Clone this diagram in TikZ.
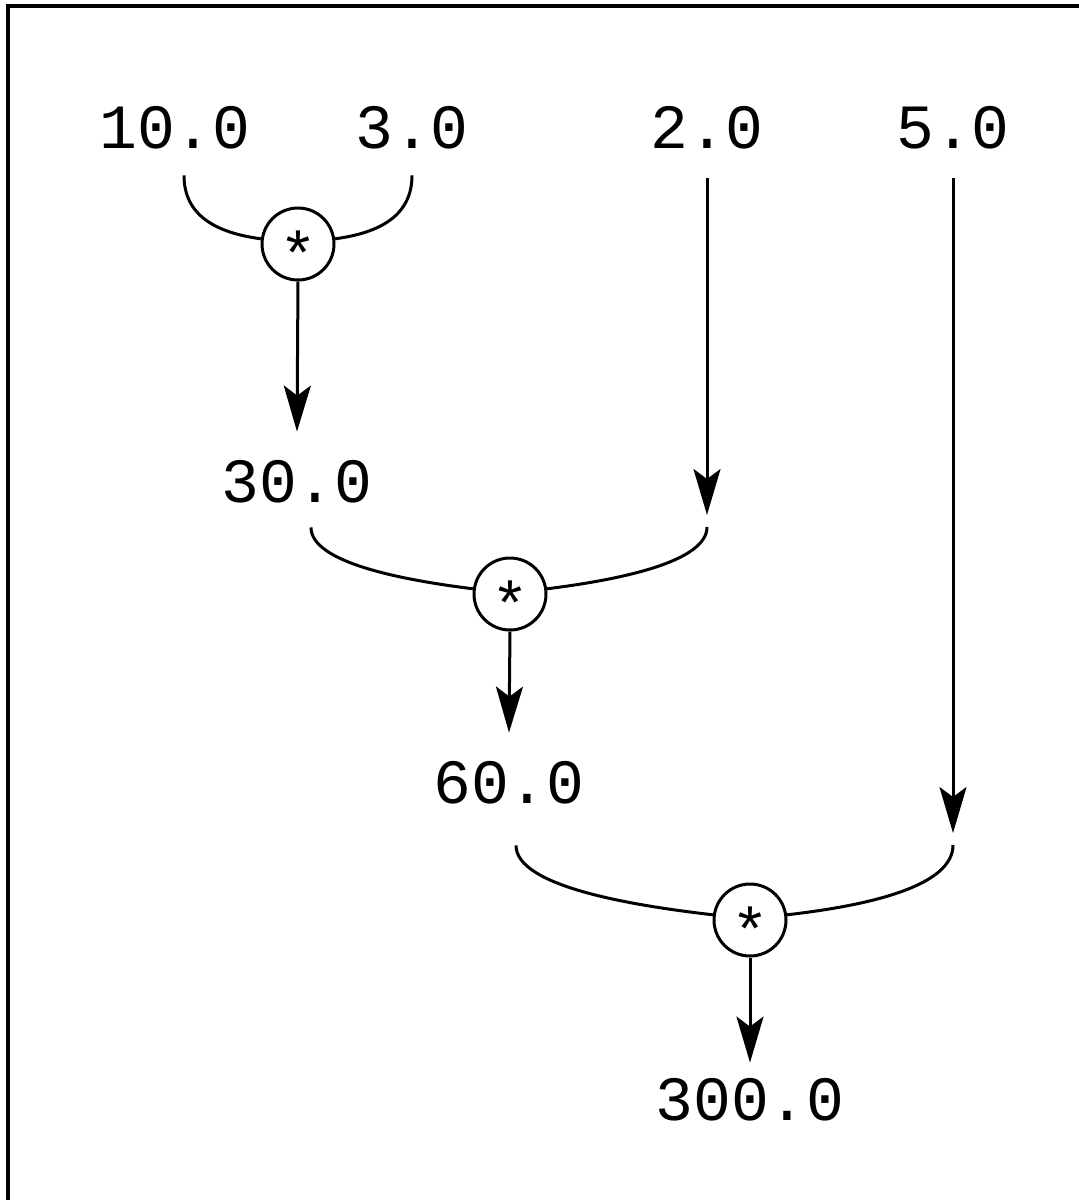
\documentclass[tikz,border=0pt]{standalone}
\usepackage{fontspec}
\setmonofont{Liberation Mono}
\usetikzlibrary{arrows.meta}
\begin{document}
\begin{tikzpicture}[x=0.5pt,y=-0.5pt,
  val/.style={font=\fontsize{31.5pt}{32pt}\selectfont\ttfamily, inner xsep=0pt, inner ysep=15pt, text height=20pt, text depth=0pt},
  op/.style={circle, draw, line width=1.5pt, minimum size=36pt, inner sep=0pt, font=\fontsize{31.5pt}{32pt}\selectfont\ttfamily},
  wire/.style={line width=1.5pt},
  arr/.style={wire, -{Stealth[length=23pt,width=13.5pt,inset=5pt]}}]
\useasboundingbox (0,0) rectangle (1079,1200);
\draw[line width=2pt] (8,1200) -- (8,6) -- (1079,6);
% values
\node[val] (v10) at (175,128) {10.0};
\node[val] (v3) at (412,128) {3.0};
\node[val] (v2) at (707,128) {2.0};
\node[val] (v5) at (953,128) {5.0};
\node[val] (v30) at (297,482) {30.0};
\node[val] (v60) at (509,783) {60.0};
\node[val] (v300) at (750,1100) {300.0};
% operators
\node[op] (m1) at (298,244) {\raisebox{-0.52em}[0pt][0pt]{*}};
\node[op] (m2) at (510,594) {\raisebox{-0.52em}[0pt][0pt]{*}};
\node[op] (m3) at (750,920) {\raisebox{-0.52em}[0pt][0pt]{*}};
% junctions
\coordinate (j2) at (707,521);
\coordinate (j3) at (953,839);
% level 1
\draw[wire] ([xshift=4.5pt,yshift=1.5pt]v10.south) .. controls +(0,40) and +(-45,-6) .. (m1.172);
\draw[wire] ([yshift=1.5pt]v3.south) .. controls +(0,40) and +(45,-6) .. (m1.8);
\draw[arr] (m1.south) -- (v30.north);
% level 2
\draw[arr, shorten >=3pt] (v2.south) -- (j2);
\draw[wire] ([xshift=7pt,yshift=2.5pt]v30.south) .. controls +(0,35) and +(-72,-9) .. (m2.172);
\draw[wire] ([yshift=-3pt]j2) .. controls +(0,35) and +(72,-9) .. (m2.8);
\draw[arr] (m2.south) -- (v60.north);
% level 3
\draw[arr, shorten >=3pt] (v5.south) -- (j3);
\draw[wire] ([xshift=3.5pt,yshift=-6pt]v60.south) .. controls +(0,40) and +(-87,-10) .. (m3.172);
\draw[wire] ([yshift=-3pt]j3) .. controls +(0,40) and +(87,-10) .. (m3.8);
\draw[arr, shorten >=-6.5pt] (m3.south) -- (v300.north);
\end{tikzpicture}
\end{document}
